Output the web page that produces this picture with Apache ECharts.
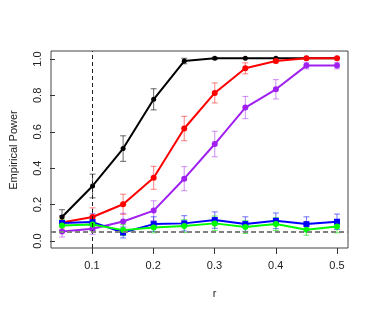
<!DOCTYPE html>
<html><head><meta charset="utf-8">
<script src="https://cdn.jsdelivr.net/npm/echarts@6/dist/echarts.min.js"></script>
<style>html,body{margin:0;padding:0;background:#fff}#c{width:374px;height:312px}</style>
</head><body><div id="c"></div>
<script>
const rValues = [0.05,0.1,0.15,0.2,0.25,0.3,0.35,0.4,0.45,0.5];
const xTicks = [0.1,0.2,0.3,0.4,0.5];
const yTicks = [0.0,0.2,0.4,0.6,0.8,1.0];
const blackPower  = [0.13,0.30,0.505,0.775,0.985,1.0,1.0,1.0,1.0,1.0];
const blackErr    = [0.04,0.065,0.07,0.058,0.015,0.005,0,0,0,0];
const redPower    = [0.10,0.13,0.20,0.345,0.615,0.81,0.945,0.985,1.0,1.0];
const redErr      = [0.03,0.05,0.055,0.063,0.067,0.055,0.03,0.01,0,0];
const purplePower = [0.05,0.065,0.105,0.165,0.34,0.53,0.73,0.83,0.96,0.96];
const purpleErr   = [0.03,0.03,0.045,0.054,0.066,0.07,0.061,0.053,0.018,0.018];
const bluePower   = [0.097,0.102,0.045,0.091,0.095,0.113,0.091,0.109,0.091,0.104];
const blueErr     = [0.04,0.045,0.03,0.04,0.042,0.045,0.04,0.043,0.04,0.042];
const greenPower  = [0.083,0.089,0.058,0.073,0.080,0.095,0.075,0.091,0.060,0.078];
const greenErr    = [0.035,0.035,0.03,0.03,0.035,0.04,0.035,0.035,0.03,0.035];
const nullLevel = 0.05;
const vLine = 0.1;

const chart = echarts.init(document.getElementById('c'), null, {renderer:'canvas'});
const FONT = 'Liberation Sans, Arial, sans-serif';

function errSeries(vals, errs, color){
  return {
    type:'custom', xAxisIndex:0, yAxisIndex:0, z:2,
    data: rValues.map((r,i)=>[r, vals[i]-errs[i], vals[i]+errs[i]]),
    renderItem: function(params, api){
      const lo = api.coord([api.value(0), api.value(1)]);
      const hi = api.coord([api.value(0), api.value(2)]);
      const w = 3;
      const st = {stroke: color, lineWidth: 1};
      return {type:'group', children:[
        {type:'line', shape:{x1:lo[0],y1:lo[1],x2:hi[0],y2:hi[1]}, style:st},
        {type:'line', shape:{x1:lo[0]-w,y1:lo[1],x2:lo[0]+w,y2:lo[1]}, style:st},
        {type:'line', shape:{x1:hi[0]-w,y1:hi[1],x2:hi[0]+w,y2:hi[1]}, style:st}
      ]};
    },
    silent:true
  };
}
function lineSeries(vals, color, sym, size){
  return {
    type:'line', xAxisIndex:0, yAxisIndex:0, z:3,
    data: rValues.map((r,i)=>[r, vals[i]]),
    symbol: sym||'circle', symbolSize: size||6, showAllSymbol:true,
    lineStyle:{color:color, width:2}, itemStyle:{color:color},
    silent:true, animation:false
  };
}

const option = {
  animation:false,
  grid:[
    {left:51, right:26, top:51, bottom:64, show:true, borderColor:'#444', borderWidth:1, backgroundColor:'transparent'},
    {left:92, right:37, top:51, bottom:64},
    {left:51, right:26, top:59, bottom:71}
  ],
  xAxis:[
    {gridIndex:0, type:'value', min:0.032, max:0.518, show:false},
    {gridIndex:1, type:'value', min:0.1, max:0.5, interval:0.1, position:'bottom',
      axisLine:{show:false}, splitLine:{show:false},
      axisTick:{show:true, inside:false, length:6, lineStyle:{color:'#333'}},
      axisLabel:{show:true, margin:12, color:'#222', fontSize:11, fontFamily:FONT, formatter:v=>v.toFixed(1)},
      name:'r', nameLocation:'middle', nameGap:40, nameTextStyle:{color:'#222', fontSize:11, fontFamily:FONT}},
    {gridIndex:2, type:'value', min:0, max:1, show:false}
  ],
  yAxis:[
    {gridIndex:0, type:'value', min:-0.04, max:1.04, show:false},
    {gridIndex:1, type:'value', min:0, max:1, show:false},
    {gridIndex:2, type:'value', min:0, max:1, interval:0.2, position:'left',
      axisLine:{show:false}, splitLine:{show:false},
      axisTick:{show:true, inside:false, length:5, lineStyle:{color:'#333'}},
      axisLabel:{show:true, rotate:90, margin:12, color:'#222', fontSize:11, fontFamily:FONT, formatter:v=>v.toFixed(1)},
      name:'Empirical Power', nameLocation:'middle', nameGap:36, nameRotate:90,
      nameTextStyle:{color:'#222', fontSize:11, fontFamily:FONT}}
  ],
  series:[
    {type:'line', xAxisIndex:0, yAxisIndex:0, data:[], z:1,
      markLine:{silent:true, symbol:'none', label:{show:false}, animation:false,
        data:[
          {xAxis:vLine, lineStyle:{color:'#222', type:[4,3], width:1}},
          {yAxis:nullLevel, lineStyle:{color:'#808080', type:[5,3], width:2}}
        ]}},
    errSeries(blackPower, blackErr, 'rgba(0,0,0,0.6)'),
    lineSeries(blackPower, '#000000', 'circle', 5),
    errSeries(redPower, redErr, 'rgba(255,0,0,0.5)'),
    lineSeries(redPower, '#ff0000'),
    errSeries(purplePower, purpleErr, 'rgba(160,32,240,0.5)'),
    lineSeries(purplePower, '#a020f0'),
    errSeries(bluePower, blueErr, 'rgba(0,0,255,0.55)'),
    lineSeries(bluePower, '#0000ff', 'rect', 6),
    errSeries(greenPower, greenErr, 'rgba(0,220,0,0.6)'),
    lineSeries(greenPower, '#00ff00')
  ]
};
chart.setOption(option);
</script></body></html>
